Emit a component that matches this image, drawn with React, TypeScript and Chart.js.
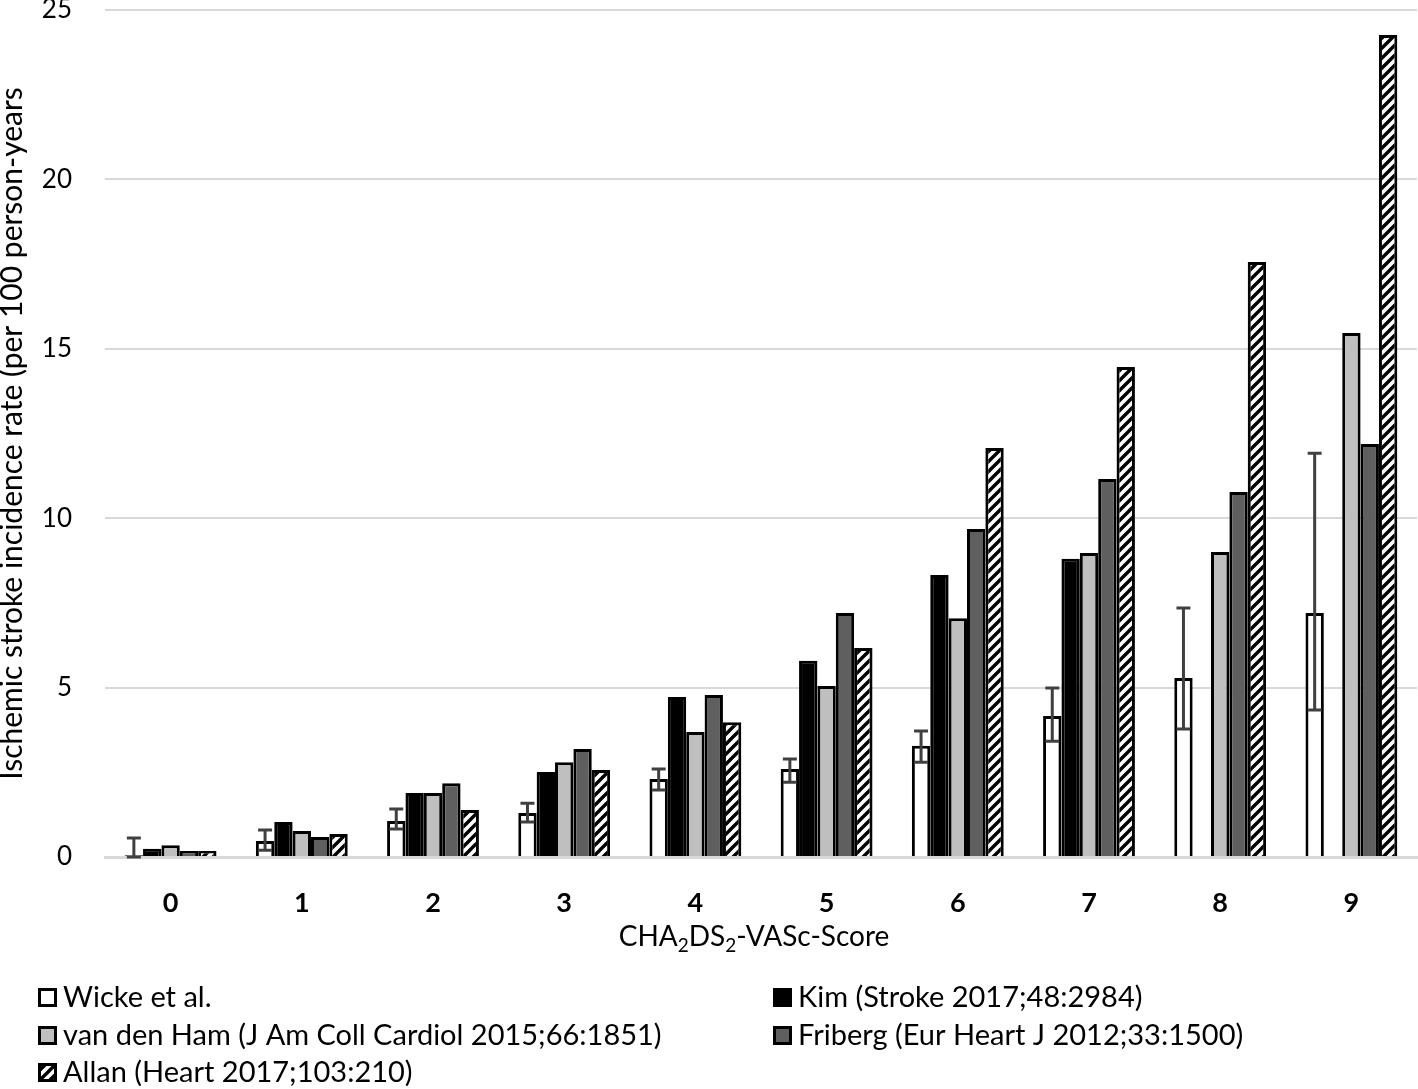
import React, { useEffect, useRef } from "react";
import { Chart, registerables } from "chart.js";

Chart.register(...registerables);

const categories = ["0", "1", "2", "3", "4", "5", "6", "7", "8", "9"];
const wicke = [0.05, 0.47, 1.06, 1.3, 2.3, 2.6, 3.28, 4.16, 5.28, 7.2];
const wickeLow = [0, 0.2, 0.83, 1.03, 1.98, 2.21, 2.8, 3.42, 3.78, 4.34];
const wickeHigh = [0.56, 0.8, 1.42, 1.59, 2.6, 2.89, 3.72, 4.99, 7.35, 11.92];
const kim = [0.24, 1.03, 1.89, 2.51, 4.72, 5.79, 8.32, 8.8, null, null];
const vanDenHam = [0.35, 0.77, 1.89, 2.8, 3.69, 5.05, 7.05, 8.97, 9.0, 15.47];
const friberg = [0.18, 0.59, 2.18, 3.19, 4.78, 7.2, 9.68, 11.16, 10.77, 12.19];
const allan = [0.18, 0.68, 1.39, 2.57, 3.98, 6.17, 12.07, 14.46, 17.56, 24.26];

const seriesLabels = [
  "Wicke et al.",
  "Kim (Stroke 2017;48:2984)",
  "van den Ham (J Am Coll Cardiol 2015;66:1851)",
  "Friberg (Eur Heart J 2012;33:1500)",
  "Allan (Heart 2017;103:210)",
];
const yTitle = "Ischemic stroke incidence rate (per 100 person-years";
const xTitleParts: [string, boolean][] = [
  ["CHA", false],
  ["2", true],
  ["DS", false],
  ["2", true],
  ["-VASc-Score", false],
];

const FONT = "Lato, 'Open Sans', sans-serif";

function makeHatch(): CanvasPattern | string {
  const c = document.createElement("canvas");
  c.width = 10;
  c.height = 10;
  const g = c.getContext("2d");
  if (!g) return "#fff";
  g.fillStyle = "#fff";
  g.fillRect(0, 0, 10, 10);
  g.strokeStyle = "#000";
  g.lineWidth = 3.4;
  g.beginPath();
  g.moveTo(-2, 12);
  g.lineTo(12, -2);
  g.moveTo(-7, 7);
  g.lineTo(7, -7);
  g.moveTo(3, 17);
  g.lineTo(17, 3);
  g.stroke();
  const p = g.createPattern(c, "repeat");
  return p || "#fff";
}

export default function App() {
  const ref = useRef<HTMLCanvasElement>(null);
  useEffect(() => {
    document.body.style.margin = "0";
    const canvas = ref.current;
    if (!canvas) return;
    const hatch = makeHatch();

    const errorBars = {
      id: "errorBars",
      afterDatasetsDraw(chart: any) {
        const ctx = chart.ctx;
        const meta = chart.getDatasetMeta(0);
        const y = chart.scales.y;
        ctx.save();
        ctx.strokeStyle = "#404040";
        ctx.lineWidth = 3;
        meta.data.forEach((el: any, i: number) => {
          const x = el.x;
          const yl = y.getPixelForValue(wickeLow[i]);
          const yh = y.getPixelForValue(wickeHigh[i]);
          ctx.beginPath();
          ctx.moveTo(x, yl);
          ctx.lineTo(x, yh);
          ctx.moveTo(x - 7, yl);
          ctx.lineTo(x + 7, yl);
          ctx.moveTo(x - 7, yh);
          ctx.lineTo(x + 7, yh);
          ctx.stroke();
        });
        ctx.restore();
      },
    };

    const extras = {
      id: "extras",
      afterDraw(chart: any) {
        const ctx = chart.ctx;
        const area = chart.chartArea;
        ctx.save();
        const big = `28px ${FONT}`;
        const small = `19px ${FONT}`;
        let total = 0;
        xTitleParts.forEach(([t, sub]) => {
          ctx.font = sub ? small : big;
          total += ctx.measureText(t).width;
        });
        let x = (area.left + area.right) / 2 - total / 2 - 7;
        const baseY = 946;
        ctx.fillStyle = "#000";
        ctx.textBaseline = "alphabetic";
        ctx.textAlign = "left";
        xTitleParts.forEach(([t, sub]) => {
          ctx.font = sub ? small : big;
          ctx.fillText(t, x, sub ? baseY + 6 : baseY);
          x += ctx.measureText(t).width;
        });
        const pos = [
          [38, 997],
          [773, 997],
          [38, 1035],
          [773, 1035],
          [38, 1072],
        ];
        chart.data.datasets.forEach((ds: any, i: number) => {
          const [lx, ly] = pos[i];
          ctx.fillStyle = ds.backgroundColor;
          ctx.fillRect(lx, ly - 9, 19, 19);
          ctx.strokeStyle = "#000";
          ctx.lineWidth = 3;
          ctx.strokeRect(lx + 1.5, ly - 7.5, 16, 16);
          ctx.fillStyle = "#000";
          ctx.font = `29px ${FONT}`;
          ctx.textBaseline = "middle";
          ctx.fillText(ds.label, lx + 25, ly + 1);
        });
        ctx.restore();
      },
    };

    const chart = new Chart(canvas, {
      type: "bar",
      data: {
        labels: categories,
        datasets: [
          { label: seriesLabels[0], data: wicke, backgroundColor: "#ffffff", borderColor: "#000", borderWidth: 3 },
          { label: seriesLabels[1], data: kim as any, backgroundColor: "#000000", borderColor: "#000", borderWidth: 3 },
          { label: seriesLabels[2], data: vanDenHam, backgroundColor: "#bfbfbf", borderColor: "#000", borderWidth: 3 },
          { label: seriesLabels[3], data: friberg, backgroundColor: "#5f5f5f", borderColor: "#000", borderWidth: 3 },
          { label: seriesLabels[4], data: allan, backgroundColor: hatch as any, borderColor: "#000", borderWidth: 3 },
        ],
      },
      options: {
        responsive: false,
        animation: false,
        layout: { padding: { top: 10, right: 1, left: 0, bottom: 0 } },
        datasets: { bar: { categoryPercentage: 0.7, barPercentage: 1.0 } },
        plugins: {
          legend: { display: false },
          tooltip: { enabled: false },
        },
        scales: {
          x: {
            grid: { display: false, drawTicks: false },
            border: { display: true, color: "#d9d9d9", width: 3 },
            ticks: { color: "#000", font: { family: FONT, size: 27, weight: "bold" }, padding: 30 },
            afterFit(scale: any) {
              scale.height = 232;
              scale.paddingLeft = 0;
              scale.paddingRight = 0;
            },
          },
          y: {
            min: 0,
            max: 25,
            ticks: { stepSize: 5, color: "#000", font: { family: FONT, size: 26 }, padding: 33 },
            grid: { color: "#d9d9d9", lineWidth: 2, drawTicks: false },
            border: { display: false },
            title: {
              display: true,
              text: yTitle,
              color: "#000",
              font: { family: FONT, size: 30, lineHeight: 0.8 },
              padding: { top: 0, bottom: 0 },
            },
            afterFit(scale: any) {
              scale.width = 105;
              scale.paddingTop = 0;
              scale.paddingBottom = 0;
            },
          },
        },
      },
      plugins: [errorBars, extras],
    });
    return () => chart.destroy();
  }, []);
  return <canvas ref={ref} width={1418} height={1089} />;
}
